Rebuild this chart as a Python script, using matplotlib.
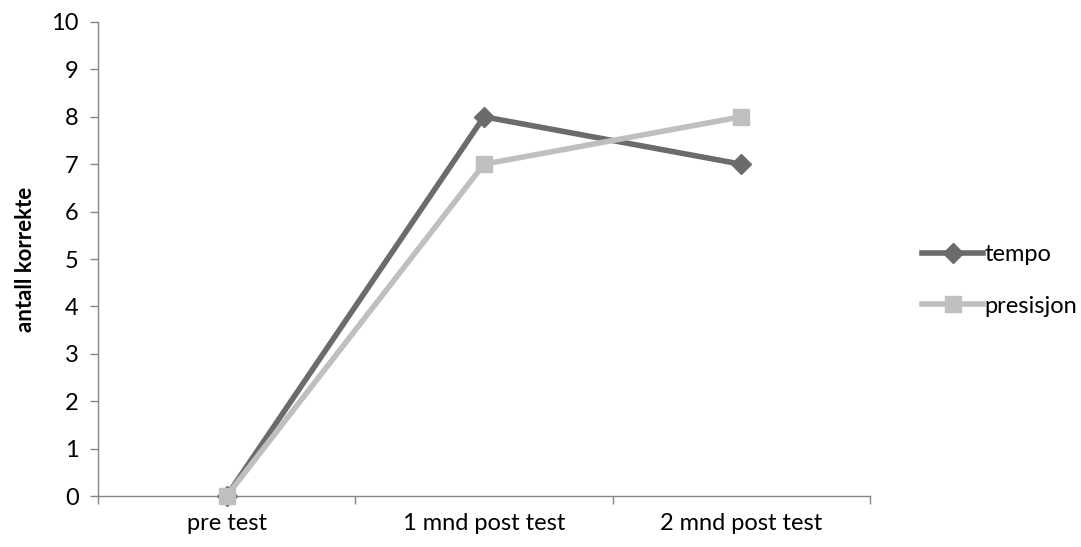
import matplotlib.pyplot as plt
from matplotlib.ticker import FixedLocator, NullFormatter

# test rounds and correct answers per condition
categories = ["pre test", "1 mnd post test", "2 mnd post test"]
tempo = [0, 8, 7]
presisjon = [0, 7, 8]

plt.rcParams['font.family'] = ['Lato', 'DejaVu Sans']

fig = plt.figure(figsize=(10.81, 5.47), dpi=100)
ax = fig.add_axes([0.0907, 0.0932, 0.714, 0.8666])

x = range(len(categories))
ax.plot(x, tempo, color="#6b6b6b", lw=4, marker="D", ms=10,
        label="tempo", zorder=3, clip_on=False)
ax.plot(x, presisjon, color="#bfbfbf", lw=4, marker="s", ms=12,
        label="presisjon", zorder=4, clip_on=False)

ax.set_xlim(-0.5, 2.5)
ax.set_ylim(0, 10)
ax.set_yticks(range(0, 11))
ax.set_xticks(list(x))
ax.set_xticklabels(categories)
ax.xaxis.set_minor_locator(FixedLocator([-0.5, 0.5, 1.5, 2.5]))
ax.xaxis.set_minor_formatter(NullFormatter())
ax.tick_params(axis="x", which="major", length=0, pad=12, labelsize=17)
ax.tick_params(axis="x", which="minor", length=6, color="#868686", width=1)
ax.tick_params(axis="y", length=6, color="#868686", width=1, labelsize=17, pad=8)

for s in ["top", "right"]:
    ax.spines[s].set_visible(False)
for s in ["left", "bottom"]:
    ax.spines[s].set_color("#868686")
    ax.spines[s].set_linewidth(1)

ax.set_ylabel("antall korrekte", fontsize=16, fontweight="bold", labelpad=11)

ax.legend(loc="center left", bbox_to_anchor=(1.04, 0.455), frameon=False,
          fontsize=17, handlelength=2.6, handletextpad=0.05, labelspacing=1.3)

fig.savefig("out.png", dpi=100)
